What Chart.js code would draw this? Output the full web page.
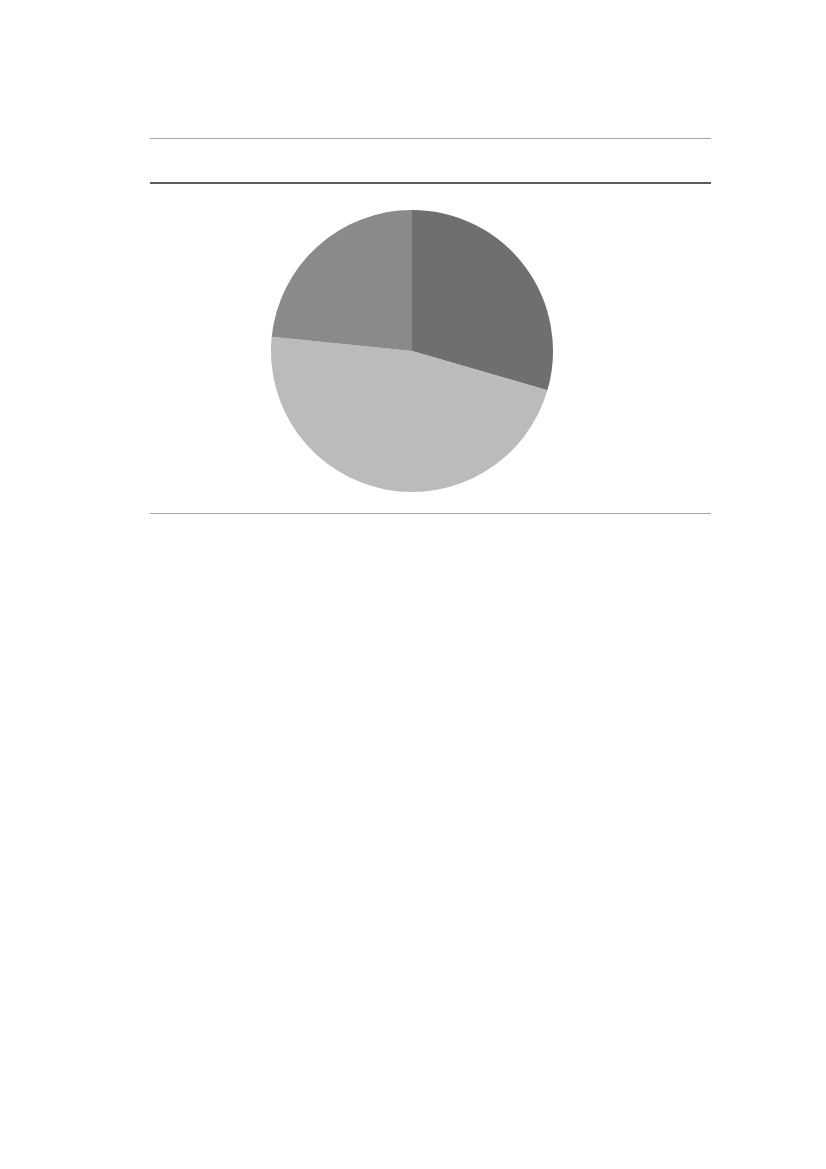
<!DOCTYPE html>
<html>
<head>
<meta charset="utf-8">
<script src="https://cdn.jsdelivr.net/npm/chart.js@4.4.0/dist/chart.umd.min.js"></script>
<style>
  html, body { margin: 0; padding: 0; background: #ffffff; }
  body { width: 826px; height: 1169px; position: relative; overflow: hidden; font-family: "Liberation Sans", Arial, sans-serif; }
  .rule { position: absolute; left: 149.5px; width: 561px; height: 1.6px; }
  #wrap { position: absolute; left: 261.7px; top: 200.9px; width: 300px; height: 300px; }
</style>
</head>
<body>
<div class="rule" style="top:137.7px; background:#a3a3a3;"></div>
<div class="rule" style="top:182.4px; background:#5c5c5c;"></div>
<div class="rule" style="top:512.9px; background:#a3a3a3;"></div>
<div id="wrap"><canvas id="c"></canvas></div>
<script>
const categories = ["Category 1", "Category 2", "Category 3"];
const values = [29.5, 47.1, 23.4];
const sliceColors = ["#6f6f6f", "#bbbbbb", "#8a8a8a"];

new Chart(document.getElementById("c"), {
  type: "pie",
  data: {
    labels: categories,
    datasets: [{
      data: values,
      backgroundColor: sliceColors,
      borderWidth: 0
    }]
  },
  options: {
    responsive: true,
    maintainAspectRatio: false,
    animation: false,
    layout: { padding: 9 },
    plugins: {
      legend: { display: false },
      tooltip: { enabled: false },
      title: { display: false }
    }
  }
});
</script>
</body>
</html>
